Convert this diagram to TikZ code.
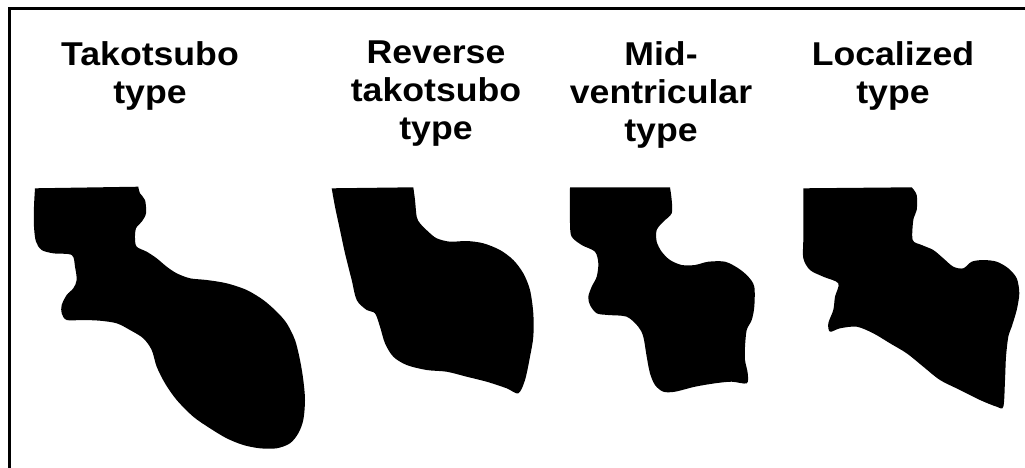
\documentclass[tikz,border=0pt]{standalone}
\usepackage{fontspec}
\newfontfamily\labfont{Liberation Sans}[FakeStretch=1.08]
\begin{document}
\begin{tikzpicture}[x=1pt,y=-1pt,
  label/.style={anchor=north,inner sep=0pt,align=center,
    font=\labfont\bfseries\fontsize{33}{38}\selectfont},
  ventricle/.style={fill=black,draw=none}]
\useasboundingbox (0,0) rectangle (1025,467);
\fill[white] (0,0) rectangle (1025,467);
\begin{scope}
\clip (0,0) rectangle (1025,467);
\draw[line width=2.6pt] (9.7,8.6) rectangle (1040,480);
\end{scope}

% column headings
\node[label] (t1) at (150,41) {Takotsubo\\type};
\node[label] (t2) at (436,41) {Reverse\\takotsubo\\type};
\node[label] (t3) at (661,41) {Mid-\\ventricular\\type};
\node[label] (t4) at (893,41) {Localized\\type};

% takotsubo type
\fill[ventricle] (35,188.3) -- (138.3,186.7)
  plot[smooth,tension=0.5] coordinates {(138.3,186.7) (140,193.3) (145,200) (146,213.3)
  (141.7,221.7) (136,228.3) (135,238.3) (136.7,246.7) (146.7,251.7) (156.7,258.3)
  (166.7,266.7) (176.7,273.3) (190,278.3) (206.7,280) (226.7,283.3) (246.7,290)
  (263.3,300) (276.7,311.7) (286.7,323.3) (295,340) (300,360) (303.3,380) (305,400)
  (303.3,420) (298.3,433.3) (290,443.3) (276.7,448.3) (260,448.3) (243.3,445)
  (226.7,438.3) (210,428.3) (193.3,416.7) (176.7,400) (165,383.3) (156.7,366.7)
  (151.7,350) (143.3,338.3) (130,330) (116.7,323.3) (100,320.7) (83.3,320) (66.7,320)
  (61.7,313.3) (61.7,305) (66.7,295) (73.3,288.3) (76.7,280) (75,266.7) (71.7,255)
  (53.3,253.3) (41.7,250) (36,241.7) (34,226.7) (34,206.7) (35,188.3)} -- cycle;

% reverse takotsubo type
\fill[ventricle] (331.7,188.3) -- (413.3,187.3)
  plot[smooth,tension=0.5] coordinates {(413.3,187.3) (415,200) (416.7,216.7) (420,223.3)
  (428.3,231.7) (436.7,238.3) (450,241.7) (466.7,241) (483.3,243.3) (500,250)
  (513.3,260) (523.3,273.3) (530,290) (533.3,313.3) (533.3,336.7) (530,356.7)
  (525,380) (518.3,393.3) (506.7,388.3) (486.7,381.7) (466.7,376.7) (446.7,371.7)
  (426.7,370) (406.7,365) (393.3,356.7) (385,343.3) (380,326.7) (375,313.3)
  (366.7,310) (356.7,300) (351.7,280) (345,253.3) (340,230) (335,206.7) (331.7,188.3)} -- cycle;

% mid-ventricular type
\fill[ventricle] (570,187.3) -- (670,187.3)
  plot[smooth,tension=0.5] coordinates {(670,187.3) (671.7,200) (671.7,213.3) (663.3,221.7)
  (656.7,230) (656.7,241.7) (661.7,251.7) (670,260) (681.7,265) (695,265)
  (708.3,261.7) (725,261.7) (738.3,268.3) (748.3,276.7) (754.3,286.7) (754.3,306.7)
  (751.7,320) (746.7,330) (745,346.7) (745,360) (747.7,373.3) (746.7,383.3)
  (731.7,381.7) (715,383.3) (695,386.7) (675,391.7) (663.3,391.7) (655,385)
  (650,373.3) (646.7,356.7) (643.3,336.7) (638.3,326.7) (626.7,316.7) (608.3,315)
  (596.7,313.3) (590,305) (588.3,296.7) (591.7,286.7) (596.7,276.7) (598.3,263.3)
  (595,251.7) (581.7,245) (571.7,236.7) (570,223.3) (570,187.3)} -- cycle;

% localized type
\fill[ventricle] (803.3,188.3) -- (911.7,187.3)
  plot[smooth,tension=0.5] coordinates {(911.7,187.3) (916.7,195) (916.7,210) (913.3,220)
  (912.7,240) (921.7,245) (933.3,250) (943.3,258.3) (953.3,266.7) (963.3,268.3)
  (971.7,261.7) (983.3,260) (996.7,261.7) (1008.3,268.3) (1016.7,278.3)
  (1019.3,293.3) (1016.7,310) (1011.7,326.7) (1008.3,336.7) (1006,356.7) (1005,380)
  (1003.3,406.7) (996.7,406.7) (980,400) (960,390) (940,380) (923.3,366.7)
  (906.7,353.3) (890,343.3) (873.3,333.3) (856.7,326.7) (840,328.3) (830,331.7)
  (828.3,323.3) (833.3,310) (835,296.7) (838.3,283.3) (823.3,276.7) (810,270)
  (803.3,258.3) (803.3,240) (803.3,213.3) (803.3,188.3)} -- cycle;
\end{tikzpicture}
\end{document}
